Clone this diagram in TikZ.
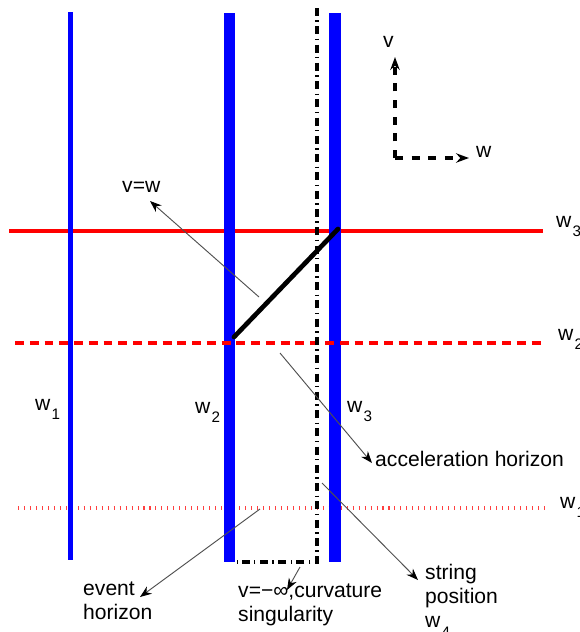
\documentclass[tikz,border=0pt]{standalone}
\usepackage{fontspec}
\setmainfont{Liberation Sans}
\usetikzlibrary{arrows.meta}
\definecolor{braneblue}{RGB}{0,0,255}
\definecolor{slicered} {RGB}{255,0,0}
\definecolor{leadgray} {RGB}{80,80,80}
\newcommand{\lowsub}[1]{\kern1pt\raisebox{-8.5pt}{\fontsize{13}{13}\selectfont #1}}

\begin{document}
\begin{tikzpicture}[x=0.03cm, y=-0.03cm, font=\fontsize{18}{20.5}\selectfont,
  lbl/.style={inner sep=0pt, anchor=base west},
  multilbl/.style={inner sep=0pt, anchor=north west, align=left},
  pointer/.style={leadgray, line width=0.8pt, -{Stealth[length=10pt, width=7.5pt, black]}},
  axisline/.style={line width=3.4pt, dash pattern=on 6.8pt off 7.4pt, -{Stealth[length=11pt, width=8pt]}},
  sing/.style={line width=3.4pt, dash pattern=on 6.8pt off 3.8pt on 1.2pt off 3.8pt}]
  \useasboundingbox (0,0) rectangle (580,632);
  % constant-v slices
  \draw[slicered, line width=3.8pt] (9,231) -- (543,231);
  \draw[slicered!75, line width=3pt, dash pattern=on 0.9pt off 4.2pt] (18,508) -- (545,508);
  % worldlines
  \draw[braneblue, line width=3.8pt] (70.5,12) -- (70.5,560);
  \draw[braneblue, line width=9.4pt] (229.5,13) -- (229.5,562);
  \draw[braneblue, line width=9.4pt] (335,13) -- (335,562);
  \draw[slicered, line width=3.4pt, dash pattern=on 7.6pt off 5pt] (15,343) -- (545,343);
  % singularity
  \draw[sing] (317,8) -- (317,562) -- (237,562);
  % string
  \draw[line width=4pt, line cap=round] (234,337) -- (338,229);
  % slice labels
  \node[lbl] (w3r) at (556,227) {w\lowsub{3}};
  \node[lbl] (w2r) at (558,340) {w\lowsub{2}};
  \node[lbl] (w1r) at (560,508) {w\lowsub{1}};
  \node[lbl] (w1l) at (35,410) {w\lowsub{1}};
  \node[lbl] (w2l) at (195,413) {w\lowsub{2}};
  \node[lbl] (w3l) at (347,412) {w\lowsub{3}};
  % axes
  \coordinate (origin) at (395,158);
  \coordinate (vtip) at (395,57);
  \coordinate (wtip) at (469,158);
  \draw[axisline] (origin) -- (vtip);
  \draw[axisline] (origin) -- (wtip);
  \node[lbl] (vlab) at (383,47) {v};
  \node[lbl] (wlab) at (476,157) {w};
  % labels and pointers
  \node[lbl] (vw) at (122,192) {v=w};
  \coordinate (vwfoot) at (259,297);
  \coordinate (vwtip) at (150,201);
  \draw[pointer] (vwfoot) -- (vwtip);
  \node[lbl] (acc) at (375,466) {acceleration horizon};
  \coordinate (accfoot) at (280,353);
  \coordinate (acctip) at (372,463);
  \draw[pointer] (accfoot) -- (acctip);
  \node[multilbl] (event) at (83,582) {event\\horizon};
  \coordinate (eventfoot) at (260,509);
  \coordinate (eventtip) at (140,597);
  \draw[pointer] (eventfoot) -- (eventtip);
  \node[multilbl] (curv) at (238,584) {v=−∞,curvature\\singularity};
  \coordinate (curvfoot) at (300,567);
  \coordinate (curvtip) at (287,590);
  \draw[pointer] (curvfoot) -- (curvtip);
  \node[multilbl] (strpos) at (425,564) {string\\position\\w\lowsub{4}};
  \coordinate (strfoot) at (322,483);
  \coordinate (strtip) at (418,580);
  \draw[pointer] (strfoot) -- (strtip);
\end{tikzpicture}
\end{document}
